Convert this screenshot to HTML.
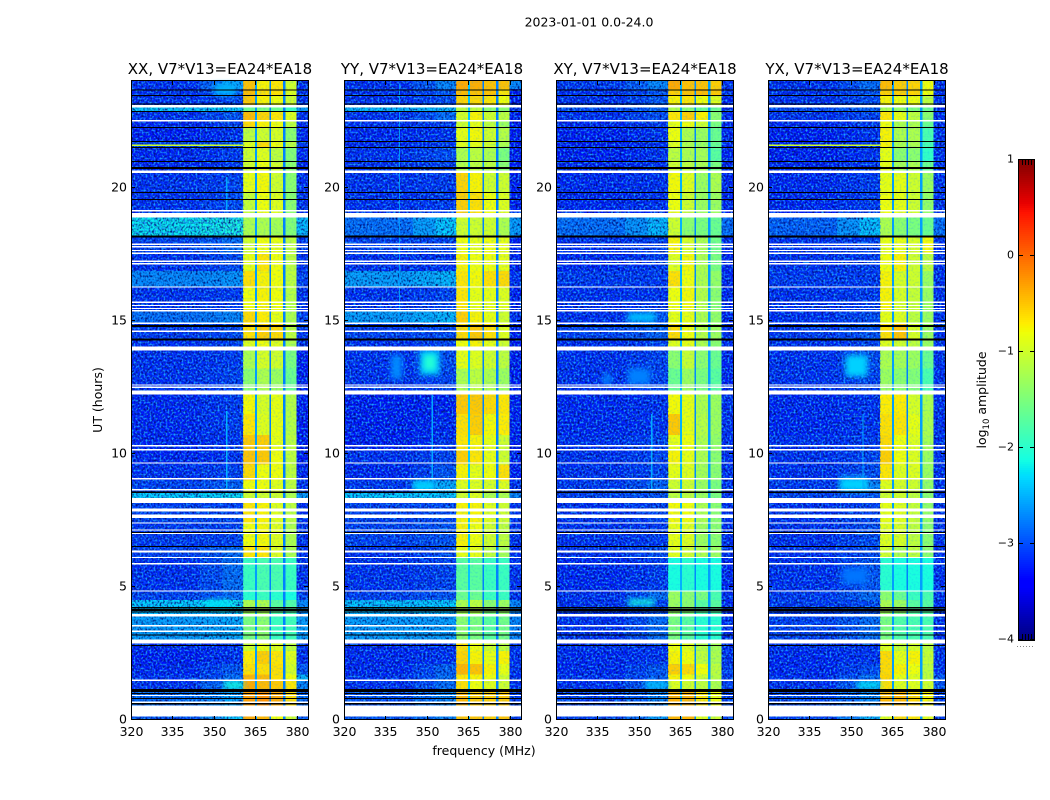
<!DOCTYPE html>
<html lang="en">
<head>
<meta charset="utf-8">
<title>2023-01-01 0.0-24.0</title>
<style>
  html,body{margin:0;padding:0;background:#fff;}
  svg{display:block;}
  text{font-family:"DejaVu Sans","Liberation Sans",sans-serif;fill:#000;}
</style>
</head>
<body>
<svg id="figure" xmlns="http://www.w3.org/2000/svg" width="1050" height="800" viewBox="0 0 1050 800">
  <defs>
    <filter id="speckleDark" x="0" y="0" width="1" height="1" color-interpolation-filters="sRGB">
      <feTurbulence type="fractalNoise" baseFrequency="0.55 0.45" numOctaves="1" seed="7"/>
      <feColorMatrix values="0 0 0 0 0  0 0 0 0 0.05  0 0 0 0 0.45  3.0 0 0 0 -1.3"/>
    </filter>
    <filter id="speckleLight" x="0" y="0" width="1" height="1" color-interpolation-filters="sRGB">
      <feTurbulence type="fractalNoise" baseFrequency="0.5 0.5" numOctaves="1" seed="23"/>
      <feColorMatrix values="0 0 0 0 0.1  0 0 0 0 0.6  0 0 0 0 1  0 3.2 0 0 -1.45"/>
    </filter>
    <filter id="softBlob" x="-40%" y="-40%" width="180%" height="180%">
      <feGaussianBlur stdDeviation="3"/>
    </filter>
  </defs>
  <text x="589" y="26.5" font-size="12.5" text-anchor="middle">2023-01-01 0.0-24.0</text>
  <text x="484" y="755" font-size="12.5" text-anchor="middle">frequency (MHz)</text>
  <text x="0" y="0" font-size="12.5" text-anchor="middle" transform="translate(102 400) rotate(-90)">UT (hours)</text>
  <text x="0" y="0" font-size="12.5" text-anchor="middle" transform="translate(986 400) rotate(-90)">log<tspan font-size="8.5" dy="3">10</tspan><tspan dy="-3"> amplitude</tspan></text>
  <text x="220" y="74" font-size="15" text-anchor="middle">XX, V7*V13=EA24*EA18</text>
  <text x="432" y="74" font-size="15" text-anchor="middle">YY, V7*V13=EA24*EA18</text>
  <text x="645" y="74" font-size="15" text-anchor="middle">XY, V7*V13=EA24*EA18</text>
  <text x="857" y="74" font-size="15" text-anchor="middle">YX, V7*V13=EA24*EA18</text>
</svg>
<script>
// ---- data ----
const freqTicks = [320, 335, 350, 365, 380];
const utTicks = [0, 5, 10, 15, 20];
const colorbarTicks = [1, 0, -1, -2, -3, -4];
// time bands, UT hours, top to bottom
const rowEdgesUT = [24,23.7,23.46,23.05,22.85,22.5,22.25,21.72,21.5,20.97,20.6,19.82,19.05,18.16,17.5,16.87,16.26,15.35,14.9,14.28,13.95,13.2,12.3,11.5,10.7,10.1,9.6,9.0,8.58,8.2,7.4,6.5,6.1,4.85,4.5,4.0,2.95,2.6,2.1,1.7,1.46,1.1,0.35,0];
// frequency channel edges, MHz
const freqEdges = [320,345,353,360.5,364.8,365.6,370,370.6,375,375.9,379.9,384];
// log10 amplitude per band: [low, mid, block1, block2, block3, block4, high]
const xxLevels = [
[-3,-2.5,-.3,-.7,-.6,-1,-3],[-3,-2.8,-.25,-.55,-.55,-.9,-3],[-3,-2.9,-.35,-.7,-.8,-1,-3],[-2.3,-2.3,-1.6,-1.5,-1.6,-1.9,-2.5],
[-3,-2.8,-.25,-.45,-.6,-.9,-3],[-3.05,-2.9,-.5,-.7,-.8,-1.1,-3.05],[-3.1,-3,-1.1,-1,-.95,-1.4,-3.05],[-2.9,-2.8,-.9,-.5,-.8,-1.1,-2.9],
[-3.05,-2.95,-1,-.9,-1.1,-1.45,-3.05],[-3.05,-2.95,-1,-.8,-1,-1.4,-3.05],[-3,-2.9,-.85,-.75,-1,-1.4,-3],[-3,-2.85,-1.05,-.8,-.9,-1.4,-3],
[-2.2,-2.1,-1.2,-1.2,-1.25,-1.45,-2.4],[-2.9,-2.7,-1,-.8,-.85,-1.1,-2.95],[-3,-2.85,-.85,-.6,-.8,-1.1,-3],[-2.6,-2.55,-.55,-.7,-.8,-1.1,-2.9],
[-3,-2.95,-.8,-.7,-.8,-1.15,-3],[-2.7,-2.6,-.5,-.65,-.85,-1.2,-2.9],[-2.95,-2.85,-.55,-.4,-.5,-1.1,-3],[-3,-2.9,-.9,-.8,-.9,-1.2,-3],
[-3,-2.95,-1.2,-.95,-1,-1.5,-3.1],[-3,-2.9,-1.4,-1.2,-1.3,-1.6,-3.1],[-3.05,-2.95,-.75,-.95,-.85,-1.15,-3.1],[-3.05,-2.95,-.6,-.9,-.85,-1.15,-3.1],
[-3.05,-3,-.35,-.4,-.85,-1.1,-3.1],[-3.05,-3,-.3,-.35,-.8,-1.1,-3.1],[-3,-2.9,-.5,-.8,-.8,-1.1,-3.05],[-2.9,-2.75,-.8,-.8,-.9,-1.1,-3],
[-2.3,-2.2,-1,-1,-1,-1.2,-2.5],[-2.9,-2.9,-.6,-.7,-.9,-1.1,-3],[-2.95,-2.9,-.8,-.75,-.9,-1.2,-3],[-2.9,-2.7,-.6,-.6,-.9,-1.2,-3],
[-3,-2.7,-1.9,-1.8,-1.8,-1.9,-3],[-2.9,-2.7,-2,-1.9,-2,-2.1,-2.9],[-2.3,-2.2,-1.2,-1.2,-1.7,-1.75,-2.6],[-2.5,-2.45,-1.5,-1.4,-1.9,-1.85,-2.5],
[-3.05,-3,-1,-.85,-.9,-1.1,-3],[-3.1,-3,-.65,-.4,-.6,-.9,-3],[-3.05,-2.8,-.55,-.55,-.55,-.95,-2.8],[-3,-2.7,-.2,-.25,-.55,-.8,-2.4],
[-3,-2.5,-.1,-.25,-.35,-.6,-2.6],[-2.7,-2.5,0,.1,-.1,-.5,-2.7],[-2.8,-2.3,-.1,-.2,-.8,-1,-2.8]
];
const yyLevels = [
[-3,-2.6,-.1,-.15,-.3,-.3,-2.6],[-3,-2.8,-.25,-.3,-.3,-.6,-3.1],[-3,-2.85,-.45,-.5,-.6,-.8,-3.1],[-2.4,-2.4,-1.1,-1.1,-1.4,-1.4,-3],
[-3,-2.7,-.95,-.7,-1,-1.1,-3.1],[-3,-2.95,-1,-.85,-1.1,-1.3,-3.1],[-3.05,-3,-.85,-.75,-1,-1.15,-3.1],[-3.05,-2.95,-.9,-.85,-1,-1.2,-3.1],
[-3,-2.85,-1.2,-1.1,-1.2,-1.5,-3.1],[-3,-2.9,-1.15,-1.1,-1.1,-1.4,-3.1],[-3,-2.95,-.45,-.7,-1,-1,-3.1],[-3,-2.95,-.4,-.55,-.8,-.9,-3.1],
[-2.7,-2.3,-1,-1,-1,-1.2,-2.5],[-2.9,-2.9,-.8,-.85,-.8,-.85,-3.1],[-3,-3,-.7,-.8,-.8,-.85,-3.1],[-2.5,-2.4,-.6,-.75,-.55,-.5,-3],
[-3,-2.9,-.6,-.85,-.85,-.9,-3.1],[-2.5,-2.4,-.4,-.7,-.85,-1,-3],[-2.9,-2.85,-.5,-.35,-.55,-.9,-3.1],[-3,-2.9,-.8,-.7,-.85,-1,-3.1],
[-3,-2.85,-.85,-.9,-1,-1.1,-3.1],[-3,-2.9,-1.2,-1.1,-1.2,-1.3,-3.1],[-3.1,-3.1,-.35,-.35,-.5,-.6,-3.1],[-3.1,-3.05,-.55,-.4,-.75,-.65,-3.1],
[-3.1,-3,-.6,-.7,-.85,-1,-3.1],[-3,-2.9,-.4,-.6,-.85,-1,-3.1],[-3.05,-2.8,-.7,-.85,-.8,-.55,-3.1],[-2.95,-2.45,-.9,-.9,-.95,-.9,-3],
[-2.3,-2.3,-1,-.9,-1.2,-1.2,-2.6],[-2.9,-2.85,-.7,-.7,-.9,-1,-3],[-2.9,-2.8,-.7,-.8,-1,-1.1,-3],[-3,-2.85,-.85,-.85,-1.1,-1.25,-3],
[-3,-2.9,-1.7,-1.7,-1.9,-1.9,-3],[-2.9,-2.8,-1.6,-1.6,-1.9,-1.9,-3],[-2.35,-2.3,-1.2,-1.1,-1.4,-1.3,-2.6],[-2.5,-2.5,-1.4,-1.5,-1.7,-1.55,-2.6],
[-3.05,-3,-.55,-.8,-1,-1.1,-3],[-3.05,-3,-.45,-.7,-.85,-.7,-3],[-3.05,-2.75,-.2,-.3,-.7,-.85,-3],[-3,-2.7,-.6,-.7,-.8,-1,-3],
[-3,-2.7,-.55,-.8,-.9,-1,-3],[-2.8,-2.6,-.2,-.35,-.4,-.35,-2.9],[-2.8,-2.6,-.3,-.3,-.4,-.3,-2.9]
];
const xyLevels = [
[-2.95,-2.6,-.1,-.3,-.3,-.4,-3],[-3,-2.8,-.4,-.3,-.25,-.35,-3],[-3,-2.8,-.7,-.6,-.8,-.9,-3.05],[-2.85,-2.75,-1.2,-1.4,-1.6,-1.6,-3],
[-3,-2.85,-.6,-.4,-.7,-1.4,-3.05],[-3.05,-2.95,-.85,-.8,-1,-1.5,-3.05],[-3.1,-3,-.8,-1.2,-1.3,-1.6,-3.05],[-3.1,-3,-.9,-1.2,-1.3,-1.6,-3.05],
[-3.1,-3,-1.1,-1.2,-1.25,-1.7,-3.05],[-3.05,-3,-1,-1.1,-1.2,-1.5,-3.05],[-3.05,-3,-.75,-.9,-1.3,-1.2,-3.05],[-3.05,-3,-.8,-1,-1.3,-1.3,-3.05],
[-2.7,-2.4,-1,-1.4,-1.5,-1.6,-2.7],[-3,-2.9,-.7,-.95,-1.2,-1.55,-3],[-3.05,-2.95,-.9,-.75,-1.2,-1.5,-3.05],[-2.95,-2.95,-.55,-.8,-1.2,-1.35,-3.05],
[-3,-3,-.8,-.75,-1.15,-1.4,-3.05],[-3,-2.8,-.85,-.85,-1.2,-1.35,-3.05],[-2.9,-2.75,-.5,-.8,-1.15,-1.3,-3],[-3,-2.9,-.9,-.85,-1.2,-1.4,-3],
[-3,-2.9,-1.4,-1.05,-1.4,-1.6,-3.05],[-3,-2.9,-1.6,-1.3,-1.5,-1.7,-3.05],[-3.05,-3,-.75,-.85,-1.2,-1.3,-3],[-3.05,-3,-.35,-.85,-1.15,-1.3,-3],
[-3,-2.9,-.85,-.8,-1.2,-1.35,-3],[-3,-2.9,-.7,-.85,-1.2,-1.4,-3],[-3,-2.9,-.85,-.9,-1.25,-1.4,-3],[-2.95,-2.75,-1,-1,-1.3,-1.5,-3],
[-2.9,-2.8,-1.1,-1.1,-1.3,-1.5,-3],[-3,-2.9,-.75,-.8,-1.2,-1.4,-3],[-3,-2.95,-.85,-.9,-1.3,-1.4,-3],[-3,-2.85,-.9,-1,-1.2,-1.3,-3],
[-3.05,-2.95,-2.1,-2,-2.1,-2.1,-3.05],[-3,-2.7,-1.3,-1.4,-1.5,-1.8,-3],[-3,-2.9,-1.3,-1.4,-1.7,-1.7,-3.05],[-3,-2.7,-1.5,-1.7,-2,-2,-3],
[-3,-3,-.8,-.9,-1.15,-1.25,-3],[-3.05,-3,-.7,-.8,-1.1,-1.2,-3],[-3.05,-2.8,-.4,-.5,-.8,-1.1,-2.9],[-3,-2.75,-.7,-.8,-1,-1.15,-2.9],
[-3,-2.65,-.9,-1,-1.1,-1.2,-2.9],[-2.9,-2.6,-.15,-.2,-.6,-.8,-2.9],[-2.9,-2.5,-.2,-.2,-.9,-1,-2.9]
];
const yxLevels = [
[-3,-2.7,-.25,-.4,-.45,-.8,-3],[-3,-2.8,-.4,-.4,-.45,-.8,-3],[-3,-2.85,-.7,-.8,-.8,-1.1,-3],[-2.85,-2.75,-1.2,-1.35,-1.5,-1.6,-3],
[-3,-2.9,-.6,-.85,-1.1,-1.4,-3],[-3.05,-2.95,-.8,-1.2,-1.2,-1.6,-3],[-3.1,-3,-.7,-1.2,-1.2,-1.8,-3],[-3.1,-3,-.7,-1.2,-1.2,-1.8,-3],
[-3.1,-3,-.85,-1.4,-1.4,-1.95,-3],[-3.05,-3,-.85,-1.25,-1.2,-1.6,-3],[-3.05,-2.95,-.85,-.85,-1,-1.3,-3],[-3.05,-2.95,-.8,-.85,-1,-1.35,-3],
[-2.75,-2.35,-1.2,-1.4,-1.5,-1.6,-2.7],[-3,-2.9,-.85,-.85,-.95,-.75,-3],[-3,-2.95,-.8,-.7,-1,-1.1,-3],[-2.95,-2.95,-.7,-.95,-1,-1.3,-3],
[-3,-2.95,-.7,-.95,-1.05,-1.3,-3],[-3,-2.85,-.85,-.9,-1.1,-1.3,-3],[-2.95,-2.8,-.55,-.3,-.95,-1.3,-3],[-3,-2.9,-.9,-1,-1.1,-1.3,-3],
[-3,-2.85,-1.2,-1.25,-1.3,-1.6,-3],[-3,-2.9,-1.3,-1.4,-1.45,-1.8,-3],[-3.05,-3,-.65,-.65,-.95,-1.2,-3],[-3.05,-3,-.55,-.6,-.85,-1.2,-3],
[-3,-2.95,-.5,-.8,-.9,-1.25,-3],[-3,-2.9,-.4,-.8,-.9,-1.3,-3],[-3,-2.85,-.6,-.9,-.9,-1.3,-3],[-2.95,-2.6,-.9,-.95,-1,-1.35,-3],
[-2.9,-2.8,-1,-1,-1.1,-1.4,-3],[-3,-2.9,-.85,-.9,-1.05,-1.35,-3],[-3,-2.85,-.9,-.95,-1.1,-1.4,-3],[-3,-2.85,-1,-1.2,-1.1,-1.4,-3],
[-3,-2.8,-2,-2.1,-2.1,-2.1,-3],[-2.95,-2.7,-1.4,-1.6,-1.9,-1.8,-3],[-2.95,-2.85,-1.2,-1.3,-1.7,-1.7,-3],[-2.9,-2.7,-1.5,-1.75,-1.8,-1.8,-3],
[-3,-3,-.9,-1.05,-.95,-1.1,-3],[-3.05,-3,-.5,-.85,-.7,-1.05,-3],[-3.05,-2.85,-.5,-.7,-.8,-1.1,-3],[-3,-2.7,-.45,-.85,-.9,-1.1,-2.8],
[-3,-2.6,-.55,-.9,-.9,-1,-2.8],[-2.85,-2.6,-.2,-.2,-.45,-.7,-2.9],[-2.9,-2.4,-.9,-.5,-.6,-.85,-2.9]
];
// level of the three narrow channel gaps between the blocks
const xxGapLevels = [-2.6,-2.75,-2.75];
const yyGapLevels = [-2.4,-2.75,-2.75];
const xyGapLevels = [-2.5,-2.7,-2.6];
const yxGapLevels = [-2.6,-2.75,-2.6];
// localized features: [utTop, utBottom, freqLow, freqHigh, level]
const xxFeatures = [[21.61,21.55,320,360.5,-1.0],[20.4,19.1,354.4,354.9,-2.55],[11.6,8.7,354.4,354.9,-2.5],[1.42,1.2,354,360.5,-2.1],[23.9,23.46,350,358,-2.5],[4.5,4.2,347,356,-2.25]];
const yyFeatures = [[13.9,12.95,347.5,354.5,-2.4],[13.7,13.15,349,353,-2.05],[13.7,12.8,337,341,-2.7],[12.2,9,351.6,352.1,-2.55],[23.9,15,339.8,340.3,-2.65],[9,8.6,345,353,-2.35]];
const xyFeatures = [[13,12.6,337,340,-2.75],[13.2,12.6,346,354,-2.75],[15.3,14.95,346,356,-2.45],[4.53,4.3,346,355.7,-2.15],[11.5,8.6,354.4,354.9,-2.55],[1.42,1.2,352,360.5,-2.4]];
const yxFeatures = [[21.61,21.55,320,360.5,-1.0],[13.7,12.9,348,356,-2.35],[9.1,8.6,346,356,-2.35],[11.5,8.6,354.1,354.6,-2.55],[1.42,1.2,352,360.5,-2.25],[5.7,5.1,347,356,-2.8]];
// flagged (blank) time ranges, UT hours [top, bottom]
const whiteFlagsUT = [[23.09,23],[22.53,22.47],[20.64,20.55],[19.15,19.1],[19.04,18.87],[17.89,17.84],[17.8,17.74],[17.66,17.61],[17.56,17.51],[17.26,17.21],[17.16,17.11],[16.29,16.24],[15.71,15.66],[15.59,15.54],[15.48,15.43],[15.39,15.34],[14.93,14.88],[14.63,14.58],[14.02,13.87],[12.61,12.56],[12.52,12.47],[12.37,12.22],[10.32,10.27],[10.17,10.12],[9.68,9.63],[9.08,9.03],[8.67,8.62],[8.33,8.15],[7.95,7.83],[7.71,7.58],[7.42,7.38],[7.16,7.12],[7.02,6.98],[6.37,6.3],[6.12,6.08],[5.89,5.84],[4.87,4.83],[3.99,3.89],[3.56,3.52],[3.36,3.3],[3.02,2.87],[1.52,1.46],[.94,.9],[.7,.63],[.55,.14]];
// zero-amplitude (black) time ranges, UT hours [top, bottom]
const blackFlagsUT = [[23.69,23.65],[23.48,23.44],[23.15,23.11],[22.87,22.83],[22.27,22.23],[21.74,21.7],[21.53,21.49],[20.99,20.95],[20.77,20.7],[19.84,19.8],[19.57,19.53],[18.2,18.13],[14.84,14.76],[14.32,14.25],[8.58,8.52],[7.06,7.02],[6.53,6.49],[4.24,4.2],[4.18,4.14],[4.13,4.09],[4.07,4.03],[3.22,3.18],[2.82,2.78],[1.16,1.06],[1.02,.98],[.83,.79],[.63,.59]];
const panelSeries = [xxLevels, yyLevels, xyLevels, yxLevels];
const panelGaps = [xxGapLevels, yyGapLevels, xyGapLevels, yxGapLevels];
const panelFeatures = [xxFeatures, yyFeatures, xyFeatures, yxFeatures];

// ---- layout and scales ----
const NS = 'http://www.w3.org/2000/svg';
const svg = document.getElementById('figure');
const panelLefts = [131, 344, 556, 768];
const panelW = 177, plotTop = 81, plotBottom = 720;
const fMin = 320, fMax = 384, utMin = 0, utMax = 24, vMin = -4, vMax = 1;
const cbLeft = 1019, cbRight = 1034, cbTop = 160, cbBottom = 640;
function xScale(left, f){ return left + (f - fMin) / (fMax - fMin) * panelW; }
function yScale(ut){ return plotBottom - (ut - utMin) / (utMax - utMin) * (plotBottom - plotTop); }
function cbScale(v){ return cbBottom - (v - vMin) / (vMax - vMin) * (cbBottom - cbTop); }
function clamp01(x){ return Math.max(0, Math.min(1, x)); }
function jet(v){
  const t = clamp01((v - vMin) / (vMax - vMin));
  const r = t < .35 ? 0 : t < .66 ? (t - .35) / .31 : t < .89 ? 1 : 1 - (t - .89) / .11 * .5;
  const g = t < .125 ? 0 : t < .375 ? (t - .125) / .25 : t < .64 ? 1 : t < .91 ? 1 - (t - .64) / .27 : 0;
  const b = t < .11 ? .5 + t / .11 * .5 : t < .34 ? 1 : t < .65 ? 1 - (t - .34) / .31 : 0;
  return 'rgb(' + Math.round(r * 255) + ',' + Math.round(g * 255) + ',' + Math.round(b * 255) + ')';
}
function make(tag, attrs, parent){
  const el = document.createElementNS(NS, tag);
  for (const k in attrs) el.setAttribute(k, attrs[k]);
  parent.appendChild(el);
  return el;
}
// the quiet sky background is a touch deeper than the coarse per-band mean
function skyLevel(v){ return v - 0.2 * clamp01((-2.4 - v) / 0.4); }
// speckled bright blocks read mostly yellow: soften the band mean above -0.8
function blockLevel(v){ return v > -0.8 ? -0.8 + (v + 0.8) * 0.65 : v; }
function channelLevel(row, gaps, c){
  // columns: low, shoulder, mid, b1, gap, b2, gap, b3, gap, b4, high
  const map = [skyLevel(row[0]), skyLevel((row[0] + row[1]) / 2), skyLevel(row[1]), blockLevel(row[2]), gaps[0], blockLevel(row[3]), gaps[1], blockLevel(row[4]), gaps[2], blockLevel(row[5]), skyLevel(row[6])];
  return map[c];
}

panelLefts.forEach(function(left, p){
  const group = make('g', {'shape-rendering': 'crispEdges'}, svg);
  
  
  // heatmap cells
  panelSeries[p].forEach(function(row, i){
    for (let c = 0; c < freqEdges.length - 1; c++) {
      const x0 = xScale(left, freqEdges[c]), x1 = xScale(left, freqEdges[c + 1]);
      const y0 = yScale(rowEdgesUT[i]), y1 = yScale(rowEdgesUT[i + 1]);
      const cell = make('rect', {x: x0, y: y0, width: x1 - x0, height: y1 - y0, fill: jet(channelLevel(row, panelGaps[p], c))}, group);
      
      
    }
  });
  // noise texture
  const bgRanges = [[fMin, 360.5], [379.9, fMax]];
  bgRanges.forEach(function(rg){
    const x0 = xScale(left, rg[0]), w = xScale(left, rg[1]) - x0;
    const dark = make('rect', {x: x0, y: plotTop, width: w, height: plotBottom - plotTop, filter: 'url(#speckleDark)'}, group);
    
    
    const light = make('rect', {x: x0, y: plotTop, width: w, height: plotBottom - plotTop, filter: 'url(#speckleLight)'}, group);
    
    
  });
  const bx0 = xScale(left, 360.5), bw = xScale(left, 379.9) - bx0;
  const blockNoise = make('rect', {x: bx0, y: plotTop, width: bw, height: plotBottom - plotTop, filter: 'url(#speckleLight)', opacity: .22}, group);
  
  
  // localized emission and interference features
  panelFeatures[p].forEach(function(fe){
    const x0 = xScale(left, fe[2]), x1 = xScale(left, fe[3]);
    const y0 = yScale(fe[0]), y1 = yScale(fe[1]);
    const mark = make('rect', {x: x0, y: y0, width: Math.max(1, x1 - x0), height: Math.max(1, y1 - y0), fill: jet(fe[4])}, group);
    
    
    if (x1 - x0 > 8 && y1 - y0 > 4) mark.setAttribute('filter', 'url(#softBlob)');
  });
  // flags
  whiteFlagsUT.forEach(function(fl){
    const y0 = yScale(fl[0]), y1 = yScale(fl[1]);
    const band = make('rect', {x: left, y: y0, width: panelW, height: y1 - y0, fill: '#fff'}, group);
    
    
  });
  blackFlagsUT.forEach(function(fl){
    const y0 = yScale(fl[0]), y1 = yScale(fl[1]);
    const band = make('rect', {x: left, y: y0, width: panelW, height: y1 - y0, fill: '#000'}, group);
    
    
  });
  // ticks and labels
  freqTicks.forEach(function(f){
    const x = Math.round(xScale(left, f)) + .5;
    const top = make('line', {x1: x, x2: x, y1: plotTop, y2: plotTop + 4, stroke: '#000'}, group);
    
    
    const bottom = make('line', {x1: x, x2: x, y1: plotBottom - 4, y2: plotBottom, stroke: '#000'}, group);
    
    
    const label = make('text', {x: x, y: 736, 'font-size': 12.5, 'text-anchor': 'middle'}, svg);
    
    
    label.textContent = String(f);
  });
  utTicks.forEach(function(ut){
    const y = Math.round(yScale(ut)) - .5;
    const l = make('line', {x1: left, x2: left + 4, y1: y, y2: y, stroke: '#000'}, group);
    
    
    const r = make('line', {x1: left + panelW - 4, x2: left + panelW, y1: y, y2: y, stroke: '#000'}, group);
    
    
    const label = make('text', {x: left - 4, y: y + 4, 'font-size': 12.5, 'text-anchor': 'end'}, svg);
    
    
    label.textContent = String(ut);
  });
  const frame = make('rect', {x: left + .5, y: plotTop - .5, width: panelW, height: plotBottom - plotTop, fill: 'none', stroke: '#000', 'stroke-width': 1}, group);
  
  
});

// ---- colorbar ----
const cbGroup = make('g', {'shape-rendering': 'crispEdges'}, svg);


for (let py = cbTop; py < cbBottom; py += 2) {
  const swatch = make('rect', {x: cbLeft, y: py, width: cbRight - cbLeft, height: 2, fill: jet(vMax - (py + 1 - cbTop) / (cbBottom - cbTop) * (vMax - vMin))}, cbGroup);
  
  
}
colorbarTicks.forEach(function(v){
  const y = Math.round(cbScale(v)) - .5;
  const a = make('line', {x1: cbLeft, x2: cbLeft + 4, y1: y, y2: y, stroke: '#000'}, cbGroup);
  
  
  const b = make('line', {x1: cbRight - 4, x2: cbRight, y1: y, y2: y, stroke: '#000'}, cbGroup);
  
  
  const label = make('text', {x: cbLeft - 5, y: y + 3, 'font-size': 11, 'text-anchor': 'end'}, svg);
  
  
  label.textContent = String(v).replace('-', '\u2212');
});
[3, 6, 9, 12].forEach(function(dx){
  const top = make('line', {x1: cbLeft + dx + .5, x2: cbLeft + dx + .5, y1: cbTop, y2: cbTop + 5, stroke: '#000'}, cbGroup);
  
  
  const bot = make('line', {x1: cbLeft + dx + .5, x2: cbLeft + dx + .5, y1: cbBottom - 6, y2: cbBottom, stroke: '#000'}, cbGroup);
  
  
});
[0, 3, 6, 9, 12, 15].forEach(function(dx){
  const dot = make('rect', {x: cbLeft - 2 + dx, y: 646, width: 1, height: 1, fill: '#888'}, cbGroup);
  
  
});
const cbFrame = make('rect', {x: cbLeft - .5, y: cbTop - .5, width: cbRight - cbLeft + 1, height: cbBottom - cbTop + 1, fill: 'none', stroke: '#000'}, cbGroup);


</script>
</body>
</html>
